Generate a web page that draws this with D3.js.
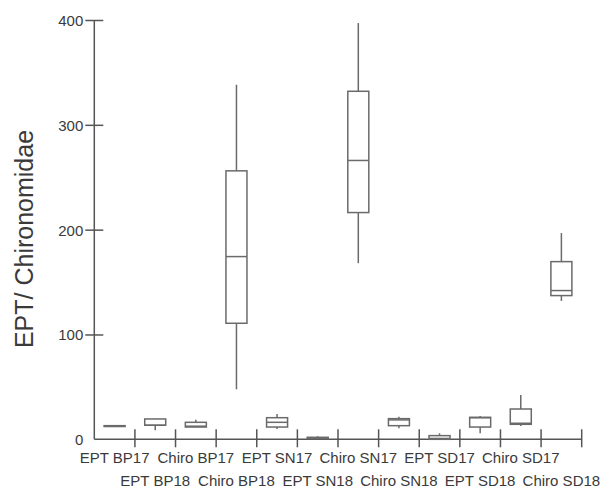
<!DOCTYPE html>
<html>
<head>
<meta charset="utf-8">
<script src="https://cdn.jsdelivr.net/npm/d3@7"></script>
<style>
  html, body { margin: 0; padding: 0; background: #fff; }
  svg { display: block; }
  text { font-family: "Liberation Sans", Arial, sans-serif; fill: #3a3a3a; }
</style>
</head>
<body>
<svg id="chart" width="601" height="488"></svg>
<script>
// Groups, in plotting order
const categories = [
  "EPT BP17", "EPT BP18", "Chiro BP17", "Chiro BP18",
  "EPT SN17", "EPT SN18", "Chiro SN17", "Chiro SN18",
  "EPT SD17", "EPT SD18", "Chiro SD17", "Chiro SD18"
];
// Box-plot summaries per group
const whiskerLow  = [12.0,  8.6, 11.7,  47.7,  9.8, 0.6, 168.0, 10.5, 0.0,  5.7, 12.7, 132.0];
const q1          = [12.2, 13.4, 11.7, 110.7, 11.7, 0.6, 216.3, 13.0, 0.0, 11.7, 14.3, 137.1];
const median      = [12.6, 13.4, 12.5, 174.3, 16.2, 1.0, 266.0, 18.5, 0.8, 20.5, 15.3, 141.9];
const q3          = [13.0, 19.4, 16.2, 256.1, 20.6, 1.9, 332.0, 19.7, 3.5, 21.0, 28.9, 169.5];
const whiskerHigh = [13.2, 19.4, 18.7, 338.2, 24.2, 2.9, 397.1, 21.6, 5.7, 22.2, 42.3, 196.7];
const yTicks = [0, 100, 200, 300, 400];
const yTitle = "EPT/ Chironomidae";

const svg = d3.select("#chart");
const plotLeft = 94.3, plotRight = 581.7, plotTop = 20, plotBottom = 439.3;

const x = d3.scaleBand().domain(categories).range([plotLeft, plotRight]).paddingInner(0).paddingOuter(0);
const y = d3.scaleLinear().domain([0, 400]).range([plotBottom, plotTop]);

const axisColor = "#555";
const boxColor = "#6a6a6a";

// Y axis with ticks crossing the axis line
const yAxis = svg.append("g")
  .attr("transform", `translate(${plotLeft},0)`)
  .call(d3.axisLeft(y).tickValues(yTicks).tickSize(9).tickSizeOuter(0).tickPadding(11));
yAxis.select(".domain").attr("stroke", axisColor).attr("stroke-width", 1.5)
  .attr("d", `M0,${plotTop}V${plotBottom}`);
yAxis.selectAll(".tick line")
  .attr("stroke", axisColor).attr("stroke-width", 1.5)
  .attr("x1", -9).attr("x2", 9)
  .style("display", d => d === 0 ? "none" : null);
yAxis.selectAll(".tick text")
  .attr("font-size", 15).attr("fill", "#3a3a3a")
  .attr("font-family", "Liberation Sans, Arial, sans-serif")
  .attr("x", -11).attr("dy", "0.36em");

// X baseline and group boundary ticks
const xg = svg.append("g");
xg.append("line")
  .attr("x1", plotLeft).attr("x2", plotRight).attr("y1", plotBottom).attr("y2", plotBottom)
  .attr("stroke", axisColor).attr("stroke-width", 1.5);
xg.selectAll("line.bound")
  .data(categories)
  .join("line")
  .attr("class", "bound")
  .attr("x1", d => x(d) + x.bandwidth()).attr("x2", d => x(d) + x.bandwidth())
  .attr("y1", plotBottom - 10).attr("y2", plotBottom + 8)
  .attr("stroke", axisColor).attr("stroke-width", 1.5);

// Category labels on two staggered rows
xg.selectAll("text.cat")
  .data(categories)
  .join("text")
  .attr("class", "cat")
  .attr("x", d => x(d) + x.bandwidth() / 2)
  .attr("y", (d, i) => i % 2 === 0 ? 462.7 : 486)
  .attr("text-anchor", "middle")
  .attr("font-size", 15)
  .text(d => d);

// Y title
svg.append("text")
  .attr("transform", `translate(33,239) rotate(-90)`)
  .attr("text-anchor", "middle")
  .attr("font-size", 25)
  .text(yTitle);

// Boxes
const bw = 21;
const boxes = svg.append("g").selectAll("g.box")
  .data(categories.map((c, i) => ({
    c, lo: whiskerLow[i], q1: q1[i], med: median[i], q3: q3[i], hi: whiskerHigh[i]
  })))
  .join("g").attr("class", "box")
  .attr("transform", d => `translate(${x(d.c) + x.bandwidth() / 2},0)`);

boxes.append("line")
  .attr("x1", 0).attr("x2", 0)
  .attr("y1", d => y(d.hi)).attr("y2", d => y(d.q3))
  .attr("stroke", boxColor).attr("stroke-width", 1.5);
boxes.append("line")
  .attr("x1", 0).attr("x2", 0)
  .attr("y1", d => y(d.q1)).attr("y2", d => y(d.lo))
  .attr("stroke", boxColor).attr("stroke-width", 1.5);
boxes.append("rect")
  .attr("x", -bw / 2).attr("width", bw)
  .attr("y", d => y(d.q3))
  .attr("height", d => Math.max(0.5, y(d.q1) - y(d.q3)))
  .attr("fill", "#fff")
  .attr("stroke", boxColor).attr("stroke-width", 1.5);
boxes.append("line")
  .attr("x1", -bw / 2).attr("x2", bw / 2)
  .attr("y1", d => y(d.med)).attr("y2", d => y(d.med))
  .attr("stroke", boxColor).attr("stroke-width", 1.5);
</script>
</body>
</html>
